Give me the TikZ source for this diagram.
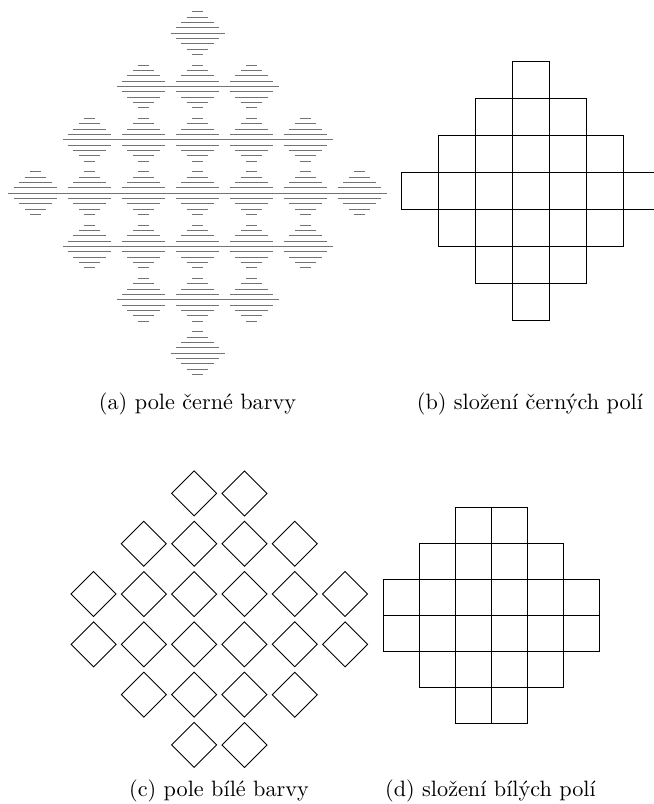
\documentclass[tikz,border=0pt]{standalone}

\tikzset{
        hatch/.style={line width=0.3pt, black!55},
        field/.style={line width=0.4pt},
        cell/.style={line width=0.45pt},
        caption/.style={anchor=base, inner sep=0pt}
}

\begin{document}
\begin{tikzpicture}[x=0.45pt, y=-0.45pt]
        \useasboundingbox (0, 0) rectangle (654, 804);

        \foreach \r in {-3,...,3} {
                \pgfmathtruncatemacro{\m}{3-abs(\r)}
                \foreach \c in {-\m,...,\m} {
                        \foreach \k in {-4,...,4} {
                                \pgfmathsetmacro{\w}{27*(1-abs(\k)/5)}
                                \draw[hatch] ({197.5+54*\c-\w}, {193+53.3*\r+5.33*\k}) -- ++({2*\w}, 0);
                        }
                }
        }

        \foreach \r in {0,...,6} {
                \pgfmathtruncatemacro{\m}{3-abs(\r-3)}
                \foreach \c in {-\m,...,\m}
                        \draw[cell] ({512+37*\c}, {61+37*\r}) rectangle ++(37, 37);
        }

        \foreach \i in {0,...,5} {
                \pgfmathtruncatemacro{\a}{abs(\i-2.5)-0.5}
                \pgfmathtruncatemacro{\b}{5-\a}
                \foreach \j in {\a,...,\b} {
                        \draw[field] ({219.3+50.3*(\j-2.5)-22.5}, {619.2+50.3*(\i-2.5)})
                                -- ++(22.5, -22.5) -- ++(22.5, 22.5) -- ++(-22.5, 22.5) -- cycle;
                        \draw[cell] ({383.3+36*\j}, {507.3+36*\i}) rectangle ++(36, 36);
                }
        }

        \node[caption] (capa) at (197.5, 409.5) {(a) pole černé barvy};
        \node[caption] (capb) at (530, 409.5) {(b) složení černých polí};
        \node[caption] (capc) at (219, 796) {(c) pole bílé barvy};
        \node[caption] (capd) at (490.5, 796) {(d) složení bílých polí};
\end{tikzpicture}
\end{document}
